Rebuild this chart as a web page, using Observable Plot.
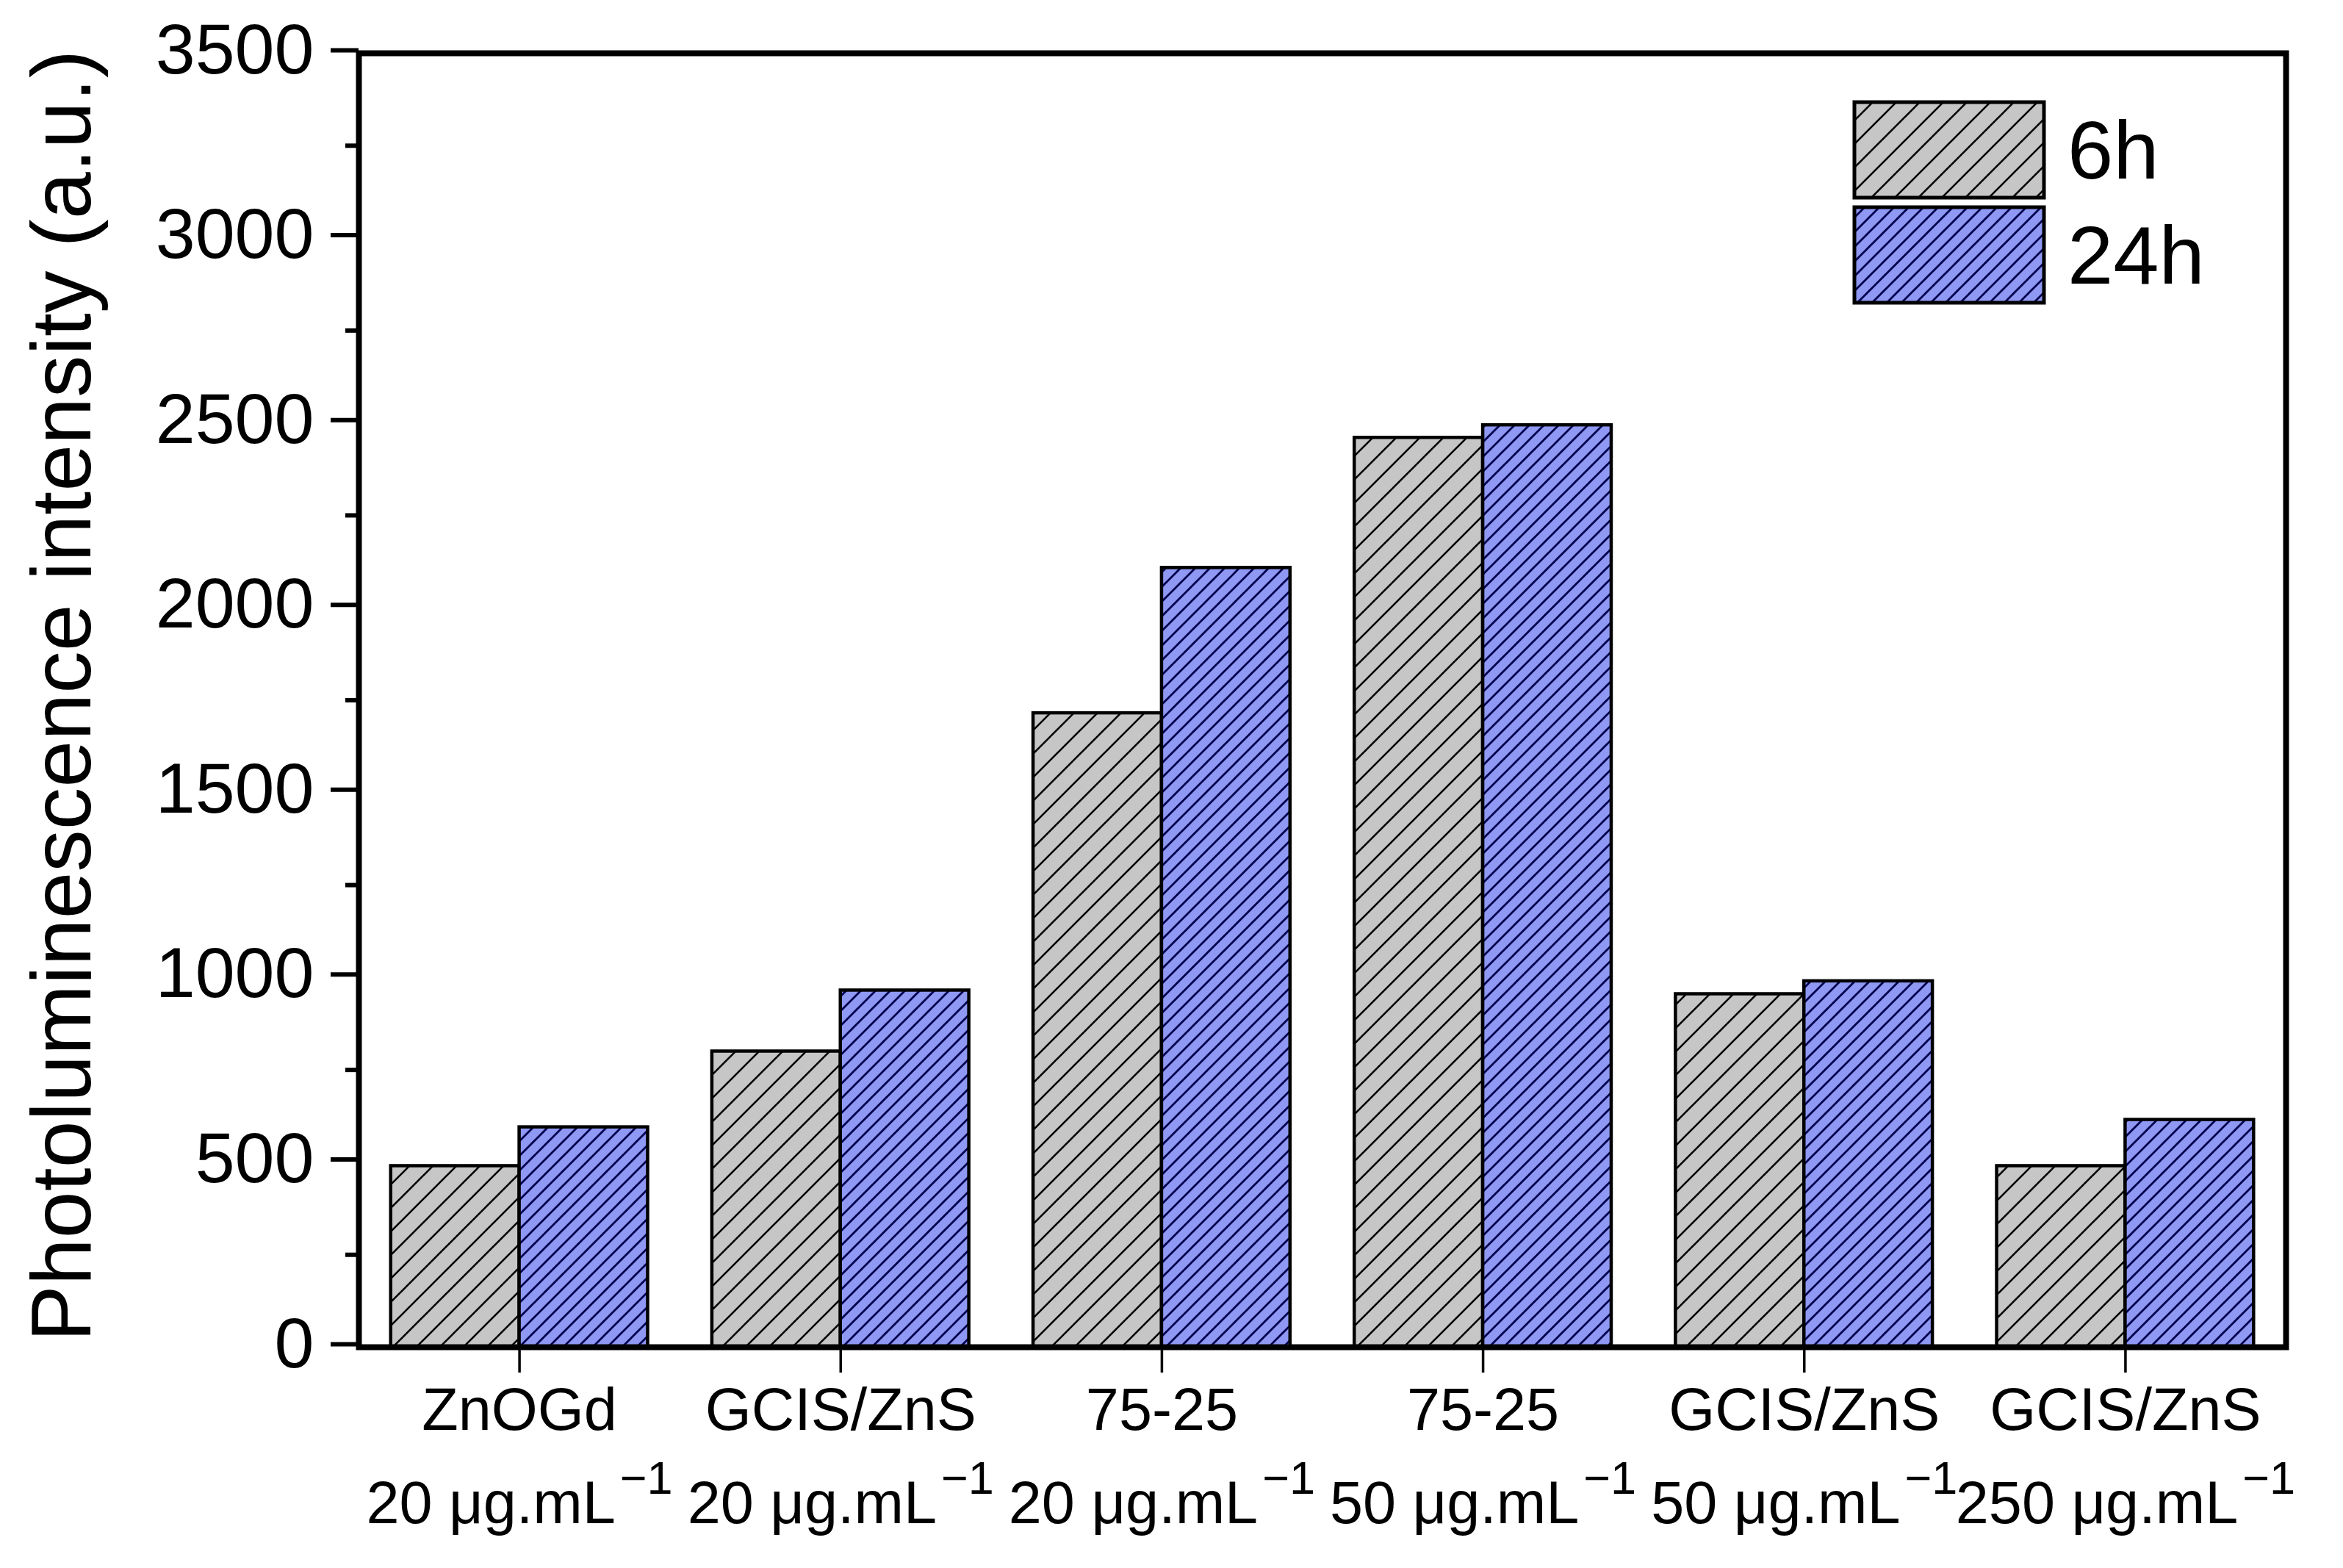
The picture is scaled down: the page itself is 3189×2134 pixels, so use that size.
<!DOCTYPE html>
<html>
<head>
<meta charset="utf-8">
<script src="https://cdn.jsdelivr.net/npm/d3@7"></script>
<script src="https://cdn.jsdelivr.net/npm/@observablehq/plot@0.6"></script>
<style>
  html, body { margin: 0; padding: 0; background: #fff; }
  #wrap { position: relative; width: 3189px; height: 2134px; font-family: "Liberation Sans", Arial, sans-serif; }
  #legend { position: absolute; left: 0; top: 0; }
</style>
</head>
<body>
<div id="wrap"></div>
<script>
// ---- data ----
const materials = ["ZnOGd", "GCIS/ZnS", "75-25", "75-25", "GCIS/ZnS", "GCIS/ZnS"];
const concentrations = [20, 20, 20, 50, 50, 250];
const intensity6h = [490, 800, 1715, 2460, 955, 490];
const intensity24h = [595, 965, 2108, 2494, 990, 615];
const seriesNames = ["6h", "24h"];
const yTicks = [0, 500, 1000, 1500, 2000, 2500, 3000, 3500];
const yMinorTicks = [250, 750, 1250, 1750, 2250, 2750, 3250];
const unitText = "μg.mL";
const unitExponent = "−1";

// ---- table built from the arrays ----
const keys = materials.map((m, i) => `${m}|${concentrations[i]}`);
const rows6 = keys.map((k, i) => ({ key: k, value: intensity6h[i], series: seriesNames[0] }));
const rows24 = keys.map((k, i) => ({ key: k, value: intensity24h[i], series: seriesNames[1] }));

// ---- layout ----
const W = 3189, H = 2134;
const ML = 488, MR = 78, MT = 72, MB = 301;
const step = (W - ML - MR) / keys.length;   // paddingInner .2 + 2 * paddingOuter .1
const half = step * 0.8 / 2;

const GRAY = "#c6c6c6", BLUE = "#8f98f2", NAVY = "#00004e";

const plot = Plot.plot({
  width: W, height: H,
  marginLeft: ML, marginRight: MR, marginTop: MT, marginBottom: MB,
  style: { fontFamily: "Liberation Sans, Arial, sans-serif", background: "white", color: "black", overflow: "visible" },
  x: { domain: keys, paddingInner: 0.2, paddingOuter: 0.1, round: false, axis: null },
  y: { domain: [0, 3500], axis: null },
  marks: [
    Plot.barY(rows6, { x: "key", y: "value", fill: "url(#hatch6)", stroke: "black", strokeWidth: 4.5, insetRight: half }),
    Plot.barY(rows24, { x: "key", y: "value", fill: "url(#hatch24)", stroke: "black", strokeWidth: 4.5, insetLeft: half }),
    Plot.axisY({ ticks: yTicks, tickSize: 38, tickPadding: 23, fontSize: 97, strokeWidth: 6, label: null, tickFormat: d => String(d), dy: -4 }),
    Plot.axisY({ ticks: yMinorTicks, tickSize: 18, strokeWidth: 6, label: null, tickFormat: () => "" }),
    Plot.axisX({ ticks: keys, tickSize: 35, tickPadding: -12, fontSize: 81, lineHeight: 1.5625, strokeWidth: 3.5, label: null,
      tickFormat: k => { const i = keys.indexOf(k); return `${materials[i]}\n${concentrations[i]} ${unitText}${unitExponent}`; } }),
    Plot.text(["Photoluminescence intensity (a.u.)"], { text: d => d, frameAnchor: "left", rotate: -90, dx: -366, dy: -6,
      lineAnchor: "bottom", textAnchor: "middle", fontSize: 115, fill: "black" }),
    Plot.frame({ stroke: "black", strokeWidth: 8 })
  ]
});

// hatch patterns
const defs = document.createElementNS("http://www.w3.org/2000/svg", "defs");
defs.innerHTML = `
  <pattern id="hatch6" patternUnits="userSpaceOnUse" width="32" height="32">
    <rect width="32" height="32" fill="${GRAY}"/>
    <path d="M-4,4 L4,-4 M0,32 L32,0 M28,36 L36,28" stroke="#000" stroke-width="2.6"/>
  </pattern>
  <pattern id="hatch24" patternUnits="userSpaceOnUse" width="20" height="20">
    <rect width="20" height="20" fill="${BLUE}"/>
    <path d="M-3,3 L3,-3 M0,20 L20,0 M17,23 L23,17" stroke="${NAVY}" stroke-width="2.8"/>
  </pattern>`;
plot.prepend(defs);

// superscript exponent on the x tick labels
plot.querySelectorAll("tspan").forEach(t => {
  const s = t.textContent;
  if (s.endsWith(unitExponent)) {
    t.textContent = s.slice(0, -unitExponent.length);
    const sup = document.createElementNS("http://www.w3.org/2000/svg", "tspan");
    sup.setAttribute("font-size", "63");
    sup.setAttribute("dy", "-40");
    sup.setAttribute("dx", "6");
    sup.textContent = unitExponent;
    t.appendChild(sup);
  }
});

const wrap = document.getElementById("wrap");
wrap.appendChild(plot);

// legend (inside the plot area, top right)
const legend = document.createElementNS("http://www.w3.org/2000/svg", "svg");
legend.setAttribute("id", "legend");
legend.setAttribute("width", W);
legend.setAttribute("height", 500);
legend.style.position = "absolute";
legend.style.left = "0px";
legend.style.top = "0px";
const items = [
  { name: seriesNames[0], fill: "url(#hatch6)", y: 139 },
  { name: seriesNames[1], fill: "url(#hatch24)", y: 282 }
];
legend.innerHTML = items.map(it => `
  <rect x="2524" y="${it.y}" width="258" height="130" fill="${it.fill}" stroke="black" stroke-width="5"/>
  <text x="2814" y="${it.y + 104}" font-size="112" font-family="Liberation Sans, Arial, sans-serif" fill="black">${it.name}</text>`).join("");
wrap.appendChild(legend);
</script>
</body>
</html>
